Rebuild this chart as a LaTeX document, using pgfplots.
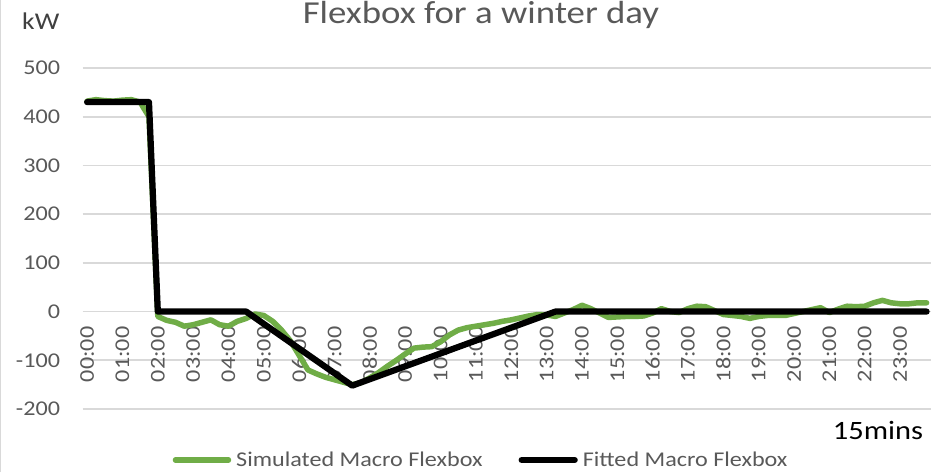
\documentclass[border=0pt]{standalone}
\usepackage{pgfplots}
\pgfplotsset{compat=1.18}
\usepackage{fontspec}
\setmainfont{Carlito}[FakeStretch=1.15]
\definecolor{flexgreen}{HTML}{70AD47}
\definecolor{labelgray}{HTML}{595959}
\definecolor{gridgray}{HTML}{D9D9D9}
\definecolor{kwgray}{HTML}{404040}
\begin{document}
\begin{tikzpicture}
\begin{axis}[
  scale only axis, width=848.3pt, height=341pt,
  at={(0pt,0pt)}, anchor=south west,
  xmin=-0.5, xmax=95.5, ymin=-200, ymax=500,
  axis x line*=middle, axis y line*=left,
  axis line style={draw=none},
  hide obscured x ticks=false, hide obscured y ticks=false,
  major tick length=0pt, tick style={draw=none},
  ytick={-200,-100,0,100,200,300,400,500},
  xtick={0,4,...,92},
  xticklabels={00:00,01:00,02:00,03:00,04:00,05:00,06:00,07:00,08:00,09:00,10:00,11:00,12:00,13:00,14:00,15:00,16:00,17:00,18:00,19:00,20:00,21:00,22:00,23:00},
  ymajorgrids, grid style={draw=gridgray, line width=1.6pt},
  /pgf/number format/assume math mode=true,
  yticklabel style={font=\fontsize{21}{21}\selectfont, text=labelgray, anchor=east, inner xsep=22.4pt, inner ysep=0pt},
  xticklabel style={font=\fontsize{21}{21}\selectfont, text=labelgray, rotate=90, anchor=east, inner xsep=15pt, inner ysep=0pt},
  legend columns=2,
  legend image code/.code={\draw[#1, line cap=round] (0pt,0pt) -- (53pt,0pt);},
  legend style={at={(axis description cs:0.1059,-0.1496)}, anchor=west, draw=none, fill=none, inner sep=0pt,
    font=\fontsize{21}{21}\selectfont, text=labelgray, nodes={inner sep=0pt},
    /tikz/every odd column/.append style={column sep=5pt},
    /tikz/every even column/.append style={column sep=36pt}},
  legend cell align=left,
]
\addplot[color=flexgreen, line width=5.5pt, line join=round, line cap=round] table {
x y
0 432
1 435
2 433
3 432
4 434
5 435
6 430
7 400
8 -10
9 -18
10 -22
11 -30
12 -27
13 -22
14 -17
15 -27
16 -30
17 -20
18 -14
19 -5
20 -8
21 -20
22 -38
23 -60
24 -90
25 -120
26 -128
27 -135
28 -140
29 -145
30 -150
31 -146
32 -136
33 -125
34 -112
35 -100
36 -87
37 -75
38 -73
39 -72
40 -62
41 -48
42 -38
43 -33
44 -30
45 -27
46 -24
47 -20
48 -17
49 -13
50 -9
51 -6
52 -7
53 -10
54 -3
55 4
56 13
57 6
58 -3
59 -12
60 -11
61 -10
62 -10
63 -9
64 -3
65 6
66 0
67 -2
68 6
69 11
70 10
71 2
72 -6
73 -8
74 -10
75 -14
76 -10
77 -8
78 -8
79 -8
80 -4
81 0
82 4
83 8
84 -2
85 5
86 11
87 10
88 11
89 18
90 23
91 18
92 16
93 16
94 18
95 18
};
\addlegendentry{Simulated Macro Flexbox}
\addplot[color=black, line width=6.25pt, line join=round, line cap=round] table {
x y
0 430
7 430
8 0
18 0
30 -152
53 0
95 0
};
\addlegendentry{Fitted Macro Flexbox}
\end{axis}
\node[anchor=base, inner sep=0pt, font=\fontsize{32}{32}\selectfont, text=labelgray] at (398.3pt,385pt) {Flexbox for a winter day};
\node[anchor=base west, inner sep=0pt, font=\fontsize{24}{24}\selectfont, text=kwgray] at (-60.7pt,379.7pt) {kW};
\node[anchor=base west, inner sep=0pt, font=\fontsize{26.5}{26.5}\selectfont, text=black] at (750pt,-30.3pt) {15mins};
\draw[line width=1pt, draw=gridgray] (-82.2pt,-63pt) -- (-82.2pt,409pt);
\pgfresetboundingbox
\path[use as bounding box] (-82.7pt,-63pt) rectangle (848.3pt,409pt);
\end{tikzpicture}
\end{document}
